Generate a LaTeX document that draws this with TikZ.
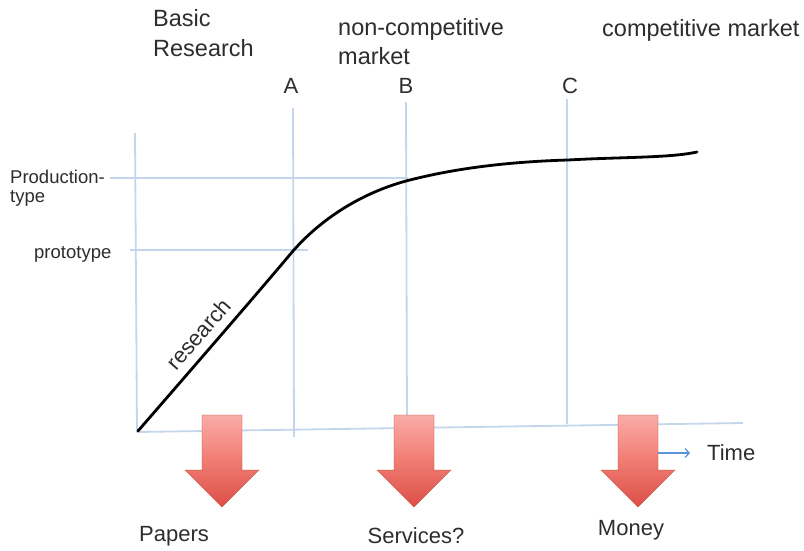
\documentclass[tikz,border=0pt]{standalone}
\usepackage{fontspec}
\setmainfont{Liberation Sans}
\usetikzlibrary{arrows.meta}
\definecolor{gridblue}{RGB}{196,214,236}
\definecolor{timeblue}{RGB}{90,150,215}
\definecolor{txt}{RGB}{45,45,45}
\definecolor{arrtop}{RGB}{250,172,166}
\definecolor{arrmid}{RGB}{240,124,114}
\definecolor{arrbot}{RGB}{220,78,70}
\begin{document}
\begin{tikzpicture}[x=1pt,y=-1pt,
  gridline/.style={draw=gridblue,line width=1.8pt},
  big/.style={font=\fontsize{22}{30}\selectfont, text=txt, inner sep=0pt},
  top/.style={font=\fontsize{23.5}{30}\selectfont, text=txt, inner sep=0pt},
  small/.style={font=\fontsize{18.5}{22}\selectfont, text=txt, inner sep=0pt},
  outarrow/.style={top color=arrtop,bottom color=arrbot, middle color=arrmid, draw=arrbot!85!black, line width=0.3pt},
  curve/.style={line width=2.8pt, line cap=round, black}]
\useasboundingbox (0,0) rectangle (804,550);

% coordinates
\coordinate (O) at (137,432);
\coordinate (ytop) at (135,133);
\coordinate (xend) at (743,423);
\coordinate (Atop) at (293,108);
\coordinate (Abot) at (294,437);
\coordinate (Btop) at (406,102);
\coordinate (Bbot) at (407,427);
\coordinate (Ctop) at (567,99);
\coordinate (Cbot) at (567,424);
\coordinate (pt1) at (110,178);
\coordinate (pt2) at (408,178);
\coordinate (pr1) at (130,250);
\coordinate (pr2) at (308,250);
\coordinate (t1) at (655,453);
\coordinate (t2) at (690,453);
\coordinate (cA) at (293,251);
\coordinate (cB) at (406,181);
\coordinate (cC) at (568,160);
\coordinate (cE) at (697,152);

% grid and axes
\draw[gridline] (ytop) -- (O);
\draw[gridline] (O) -- (xend);
\draw[gridline] (Atop) -- (Abot);
\draw[gridline] (Btop) -- (Bbot);
\draw[gridline] (Ctop) -- (Cbot);
\draw[gridline] (pt1) -- (pt2);
\draw[gridline] (pr1) -- (pr2);

% curve
\draw[curve] (138,431) .. controls (190,371) and (250,302) .. (cA)
  .. controls (322,218) and (362,193) .. (cB)
  .. controls (448,170) and (500,162) .. (cC)
  .. controls (620,157) and (670,158) .. (cE);

% time arrow
\draw[timeblue, line width=1.3pt, -{Straight Barb[length=4pt,width=9pt]}] (t1) -- (t2);

% output arrows
\foreach \cx in {222,414,638}{
  \shade[outarrow] (\cx-20,415) -- (\cx+20,415) -- (\cx+20,470) -- (\cx+37,470)
    -- (\cx,507) -- (\cx-37,470) -- (\cx-20,470) -- cycle;
}

% labels
\node[top, anchor=base west] (basic) at (153,26) {Basic};
\node[top, anchor=base west] (basicr) at (153,56) {Research};
\node[top, anchor=base west] (noncomp) at (338,35) {non-competitive};
\node[top, anchor=base west] (noncompm) at (338,64) {market};
\node[top, anchor=base west] (comp) at (602,36) {competitive market};
\node[big, anchor=base] (A) at (291,93) {A};
\node[big, anchor=base] (B) at (406,93) {B};
\node[big, anchor=base] (C) at (570,93) {C};
\node[small, anchor=base west] (prod) at (10,183) {Production-};
\node[small, anchor=base west] (prodt) at (10,202) {type};
\node[small, anchor=base west] (proto) at (34,258) {prototype};
\node[big, rotate=49] (res) at (199,334) {research};
\node[big, anchor=base] (papers) at (174,541) {Papers};
\node[big, anchor=base] (services) at (416,543) {Services?};
\node[big, anchor=base] (money) at (631,535) {Money};
\node[big, anchor=base west] (time) at (707,460) {Time};
\end{tikzpicture}
\end{document}
